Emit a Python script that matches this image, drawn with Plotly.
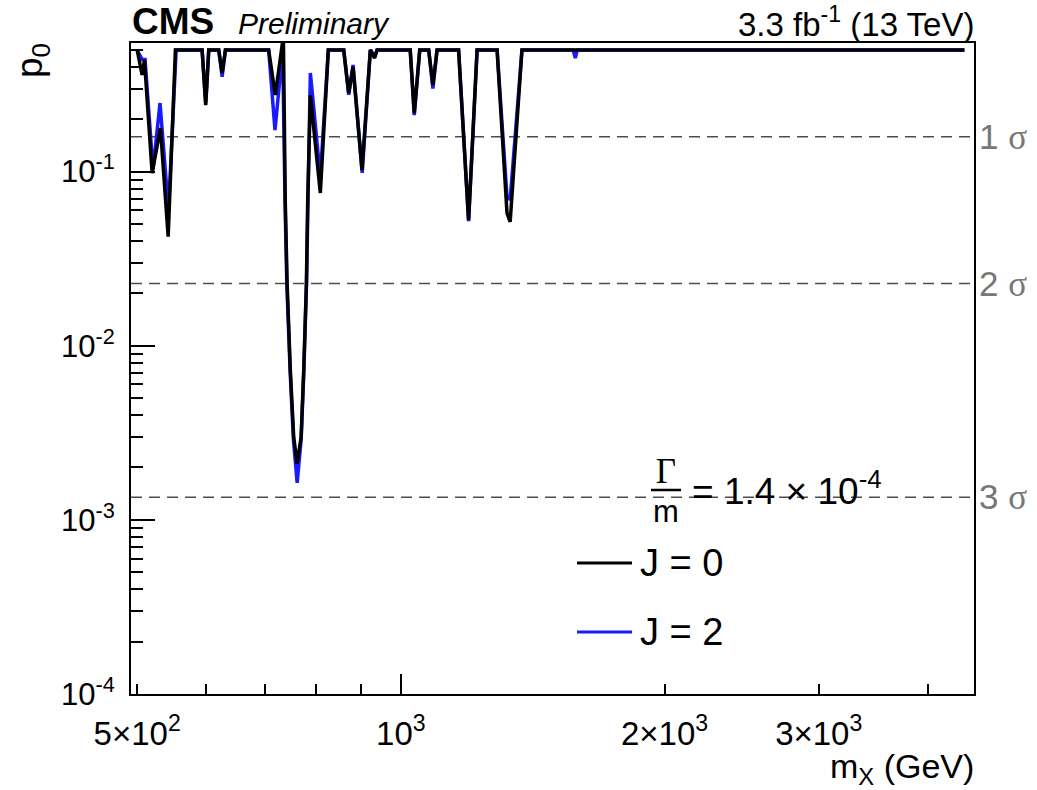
import numpy as np
import plotly.graph_objects as go

# ---------------- data ----------------
mass_j0 = [500, 506.6, 509.7, 520.1, 531.6, 542.5, 552.9,
           593.1, 598.8, 603.6,
           619.6, 625.2, 630.6,
           706.5, 719.0, 734.4,
           738.0, 741.6, 748.0, 754.6, 761.3, 769.5, 774.7, 780.2, 782.9,
           788.4, 809.3, 826.5,
           860.6, 872.0, 882.0, 903.0, 923.0, 933.5, 939.5,
           1025, 1036, 1051,
           1076, 1088, 1100,
           1164, 1195, 1222,
           1288, 1322, 1333, 1375,
           4400]
p0_j0 = [0.5, 0.359, 0.438, 0.098, 0.178, 0.0423, 0.5,
         0.5, 0.241, 0.5,
         0.5, 0.3685, 0.5,
         0.5, 0.2755, 0.6,
         0.0687, 0.0229, 0.0072, 0.0030, 0.0021, 0.0030, 0.0072, 0.0229, 0.0687,
         0.2755, 0.0754, 0.5,
         0.5, 0.283, 0.399, 0.102, 0.5, 0.449, 0.5,
         0.5, 0.217, 0.5,
         0.5, 0.314, 0.5,
         0.5, 0.0527, 0.5,
         0.5, 0.0578, 0.0514, 0.5,
         0.5]

mass_j2 = [500, 503, 506.6, 510.5, 521.3, 531.0, 543.0, 554.0,
           593.1, 598.8, 603.6,
           619.6, 625.2, 630.6,
           706.5, 718.4, 728, 733.0,
           737.5, 741.0, 747.5, 754.0, 761.5, 769.5, 775, 780.5, 783.5,
           788.4, 809.3, 826.5,
           860.6, 872.0, 882.0, 903.5, 923.0, 933.5, 939.5,
           1025, 1036, 1051,
           1076, 1088, 1100,
           1164, 1195, 1222,
           1288, 1322, 1333, 1375,
           1573, 1582, 1590,
           4400]
p0_j2 = [0.5, 0.47, 0.44, 0.44, 0.103, 0.2477, 0.06, 0.5,
         0.5, 0.25, 0.5,
         0.5, 0.35, 0.5,
         0.5, 0.1733, 0.35, 0.5,
         0.0687, 0.0229, 0.0072, 0.0029, 0.00163, 0.0029, 0.0072, 0.0229, 0.0687,
         0.3685, 0.0932, 0.5,
         0.5, 0.276, 0.41, 0.0985, 0.5, 0.46, 0.5,
         0.5, 0.211, 0.5,
         0.5, 0.30, 0.5,
         0.5, 0.052, 0.5,
         0.5, 0.0715, 0.069, 0.5,
         0.5, 0.449, 0.5,
         0.5]

sigma_labels = ["1 σ", "2 σ", "3 σ"]
sigma_p = [0.158655, 0.02275, 0.0013499]

x_range = [492, 4512]
y_range = [1e-4, 0.548]

x_tickvals = [500, 1000, 2000, 3000]
x_ticktext = ["5×10<sup>2</sup>", "10<sup>3</sup>", "2×10<sup>3</sup>", "3×10<sup>3</sup>"]
x_minor = [600, 700, 800, 900, 4000]
y_tickvals = [1e-4, 1e-3, 1e-2, 1e-1]
y_ticktext = ["10<sup>-4</sup>", "10<sup>-3</sup>", "10<sup>-2</sup>", "10<sup>-1</sup>"]
y_minor = [m * 10.0 ** e for e in range(-4, 0) for m in range(2, 10) if m * 10.0 ** e < 0.548]

# ---------------- layout geometry ----------------
W, H = 1037, 790
L, R, T, B = 131, 974, 43, 694
PW, PH = R - L, B - T


def px(x):
    return (x - L) / PW


def py(y):
    return 1 - (y - T) / PH


SANS = "Liberation Sans"
SERIF = "Liberation Serif"

fig = go.Figure()

# sigma reference lines
for p in sigma_p:
    fig.add_trace(go.Scatter(x=x_range, y=[p, p], mode="lines",
                             line=dict(color="#4d4d4d", width=1.5, dash="11px,7px"),
                             showlegend=False, hoverinfo="skip"))

fig.add_trace(go.Scatter(x=mass_j2, y=p0_j2, mode="lines", name="J = 2",
                         line=dict(color="#1a1aff", width=3.5), showlegend=False))
fig.add_trace(go.Scatter(x=mass_j0, y=p0_j0, mode="lines", name="J = 0",
                         line=dict(color="black", width=3.5), showlegend=False))
# helper trace for the overlay axis carrying the long 10^3 tick
fig.add_trace(go.Scatter(x=[1000], y=[0.01], xaxis="x2", mode="markers",
                         marker=dict(opacity=0), showlegend=False, hoverinfo="skip"))

fig.update_layout(
    width=W, height=H,
    margin=dict(l=L, r=W - R, t=T, b=H - B),
    paper_bgcolor="white", plot_bgcolor="white",
    font=dict(family=SANS, size=30, color="black"),
    xaxis=dict(type="log", range=[np.log10(x_range[0]), np.log10(x_range[1])],
               showgrid=False, zeroline=False, showline=True, linecolor="black",
               linewidth=2, mirror=True,
               tickmode="array", tickvals=x_tickvals, ticktext=x_ticktext,
               ticks="inside", ticklen=10, tickwidth=1.5, tickcolor="black",
               ticklabelstandoff=9,
               tickfont=dict(family=SANS, size=33),
               minor=dict(tickmode="array", tickvals=x_minor, ticks="inside",
                          ticklen=10, tickwidth=1.5, tickcolor="black", showgrid=False)),
    xaxis2=dict(type="log", range=[np.log10(x_range[0]), np.log10(x_range[1])],
                overlaying="x", side="bottom", showgrid=False, zeroline=False,
                showline=False, tickmode="array", tickvals=[1000], ticktext=[""],
                ticks="inside", ticklen=20, tickwidth=1.5, tickcolor="black",
                showticklabels=False),
    yaxis=dict(type="log", range=[np.log10(y_range[0]), np.log10(y_range[1])],
               showgrid=False, zeroline=False, showline=True, linecolor="black",
               linewidth=2, mirror=True,
               tickmode="array", tickvals=y_tickvals, ticktext=y_ticktext,
               ticks="inside", ticklen=24, tickwidth=1.5, tickcolor="black",
               ticklabelstandoff=8,
               tickfont=dict(family=SANS, size=31),
               minor=dict(tickmode="array", tickvals=y_minor, ticks="inside",
                          ticklen=12, tickwidth=1.5, tickcolor="black", showgrid=False)),
)

ann = []
# header
ann.append(dict(text="<b>CMS</b>", x=px(130), y=py(21), xanchor="left", yanchor="middle",
                font=dict(family=SANS, size=37)))
ann.append(dict(text="<i>Preliminary</i>", x=px(236), y=py(23), xanchor="left", yanchor="middle",
                font=dict(family=SANS, size=30)))
ann.append(dict(text="3.3 fb<sup>-1</sup> (13 TeV)", x=px(976), y=py(22), xanchor="right",
                yanchor="middle", font=dict(family=SANS, size=33)))
# axis titles
ann.append(dict(text="p<sub>0</sub>", x=px(32), y=py(61), xanchor="center", yanchor="middle",
                textangle=-90, font=dict(family=SANS, size=37)))
ann.append(dict(text="m<sub>X</sub> (GeV)", x=px(976), y=py(768), xanchor="right",
                yanchor="middle", font=dict(family=SANS, size=34)))
# sigma labels
for lab, p in zip(sigma_labels, sigma_p):
    num, sym = lab.split(" ")
    ann.append(dict(text=num + " <span style='font-family:Liberation Serif'>" + sym + "</span>",
                    xref="paper", yref="y", x=px(977), y=np.log10(p),
                    xanchor="left", yanchor="middle",
                    font=dict(family=SANS, size=35, color="#777777")))
# width annotation: fraction Γ over m as one two-line text
ann.append(dict(text="<span style='font-family:Liberation Serif;font-size:35px'>Γ</span><br>"
                     "<span style='font-size:31px'>m</span>",
                x=px(666), y=py(490), xanchor="center", yanchor="middle", align="center",
                font=dict(family=SANS, size=30)))
ann.append(dict(text="= 1.4 × 10<sup>-4</sup>", x=px(690), y=py(488), xanchor="left",
                yanchor="middle", font=dict(family=SANS, size=37)))
# legend
ann.append(dict(text="J = 0", x=px(638), y=py(563), xanchor="left", yanchor="middle",
                font=dict(family=SANS, size=38)))
ann.append(dict(text="J = 2", x=px(638), y=py(632), xanchor="left", yanchor="middle",
                font=dict(family=SANS, size=38)))
for a in ann:
    a.setdefault("xref", "paper")
    a.setdefault("yref", "paper")
    a["showarrow"] = False
fig.update_layout(annotations=ann)

shapes = [
    dict(type="line", xref="paper", yref="paper", x0=px(651), x1=px(681), y0=py(490), y1=py(490),
         line=dict(color="black", width=2.5)),
    dict(type="line", xref="paper", yref="paper", x0=px(577), x1=px(632), y0=py(563), y1=py(563),
         line=dict(color="black", width=3)),
    dict(type="line", xref="paper", yref="paper", x0=px(577), x1=px(632), y0=py(632), y1=py(632),
         line=dict(color="#1a1aff", width=3)),
]
fig.update_layout(shapes=shapes)

fig.write_html("out.html")
